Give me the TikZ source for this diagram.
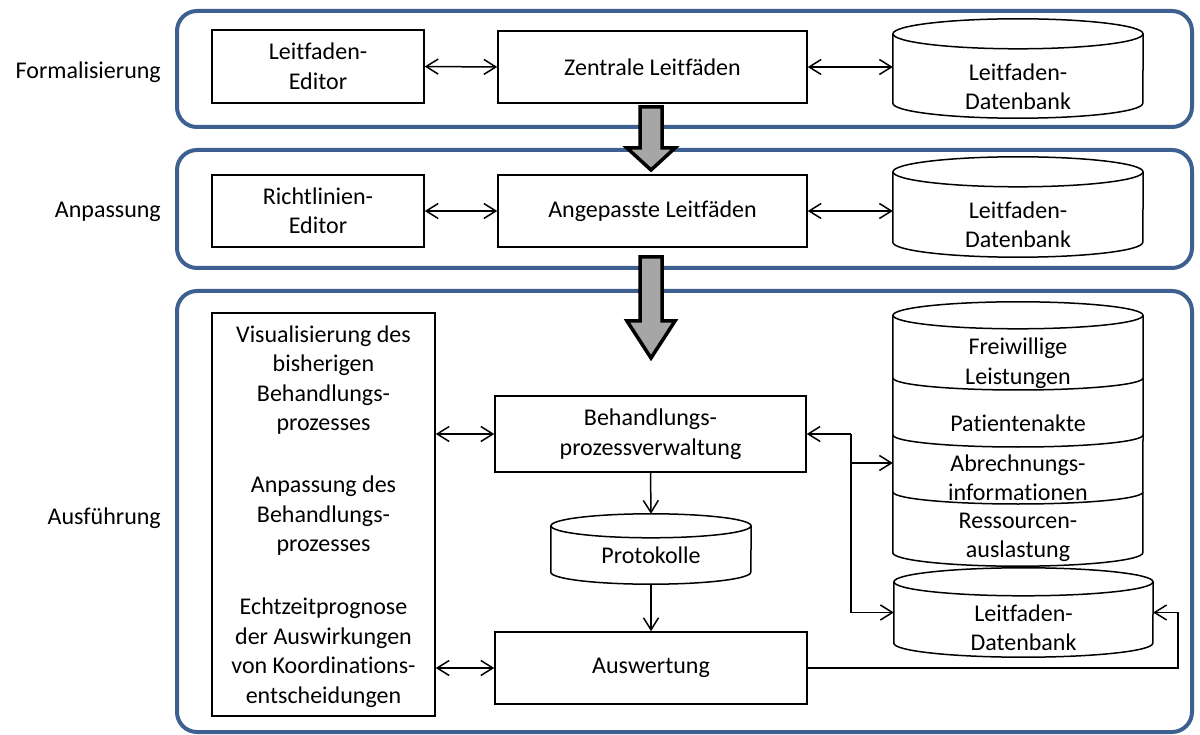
\documentclass[tikz,border=0pt]{standalone}
\usepackage{fontspec}
\setmainfont[Ligatures=NoCommon]{Carlito}
\usetikzlibrary{arrows.meta,calc}
\definecolor{frame}{RGB}{62,96,145}
\definecolor{garrow}{RGB}{166,166,166}
\newcommand\nolig{\kern0pt\relax}
\newcommand\drawcyl[3]{%
  \draw[ln,fill=white] ([yshift=-#2pt]#1.north west) -- ([yshift=#2pt]#1.south west)
    arc[start angle=180,end angle=360,x radius=#3pt,y radius=#2pt]
    -- ([yshift=-#2pt]#1.north east);
  \draw[ln,fill=white] ([yshift=-#2pt]#1.north) ellipse[x radius=#3pt,y radius=#2pt];
}
\begin{document}
\begin{tikzpicture}[x=1pt,y=-1pt,
  font=\fontsize{24}{29.5}\selectfont,
  ln/.style={line width=1.5pt},
  >={Straight Barb[length=12pt,width=15pt]},
  stage/.style={draw=frame,line width=4pt,rounded corners=20pt},
  box/.style={draw,ln,inner sep=0pt,align=center},
  cylbox/.style={inner sep=0pt},
  txt/.style={inner sep=0pt,align=center},
  lbl/.style={anchor=east,inner sep=0pt},
  bigarrow/.style={draw=black,line width=3.5pt,fill=garrow,line join=miter}]
\useasboundingbox (0,0) rectangle (1200,735);

% stages
\draw[stage] (177,11) rectangle (1192,127);
\draw[stage] (177,150) rectangle (1192,268);
\draw[stage] (177,291) rectangle (1192,732);

\node[lbl] (lf) at (161,72) {Formalisierung};
\node[lbl] (lp) at (161,212) {Anpassung};
\node[lbl] (la) at (161,518) {Ausführung};

% big arrows
\draw[bigarrow] (640,107) -- (662,107) -- (662,148) -- (675,148) -- (651,170) -- (627,148) -- (640,148) -- cycle;
\draw[bigarrow] (640,257) -- (662,257) -- (662,321) -- (675,321) -- (651,358) -- (627,321) -- (640,321) -- cycle;

% stage 1
\node[box,minimum width=212pt,minimum height=73pt] (le) at (318,66.5) {Leit\nolig faden-\\Editor};
\node[box,minimum width=309pt,minimum height=72pt] (zl) at (652.5,67) {Zentrale Leit\nolig fäden};
\node[cylbox,minimum width=250pt,minimum height=99pt] (db1) at (1018,68.5) {};
\drawcyl{db1}{15}{125}
\node[txt] (db1t) at (1018,87) {Leit\nolig faden-\\Datenbank};

% stage 2
\node[box,minimum width=212pt,minimum height=72pt] (re) at (318,211) {Richtlinien-\\Editor};
\node[box,minimum width=309pt,minimum height=72pt] (al) at (652.5,211) {Angepasste Leit\nolig fäden};
\node[cylbox,minimum width=250pt,minimum height=100pt] (db2) at (1018,207) {};
\drawcyl{db2}{15}{125}
\node[txt] (db2t) at (1018,225) {Leit\nolig faden-\\Datenbank};

% stage 3
\node[box,minimum width=223pt,minimum height=403pt] (vr) at (323.5,514.5) {};
\node[txt] (vr1) at (323.5,380) {Visualisierung des\\bisherigen\\Behandlungs-\\prozesses};
\node[txt] (vr2) at (323.5,516) {Anpassung des\\Behandlungs-\\prozesses};
\node[txt] (vr3) at (323.5,652.5) {Echtzeitprognose\\der Auswirkungen\\von Koordinations-\\entscheidungen};

\node[box,minimum width=311pt,minimum height=76pt] (bpv) at (650.5,434) {Behandlungs-\\prozessverwaltung};
\node[box,minimum width=312pt,minimum height=72pt] (aus) at (651,668) {Auswertung};

\node[cylbox,minimum width=200pt,minimum height=70pt] (prot) at (651,549) {};
\drawcyl{prot}{12}{100}
\node[txt] (prott) at (651,555) {Protokolle};

\node[cylbox,minimum width=250pt,minimum height=264pt] (stack) at (1018,434) {};
\drawcyl{stack}{13.5}{125}
\draw[ln] (893,378) arc[start angle=180,end angle=360,x radius=125pt,y radius=12pt];
\draw[ln] (893,435) arc[start angle=180,end angle=360,x radius=125pt,y radius=12pt];
\draw[ln] (893,492) arc[start angle=180,end angle=360,x radius=125pt,y radius=12pt];
\node[txt] (s1) at (1018,363) {Freiwillige\\Leistungen};
\node[txt] (s2) at (1018,423) {Patientenakte};
\node[txt] (s3) at (1018,478) {Abrechnungs-\\informationen};
\node[txt] (s4) at (1018,537.5) {Ressourcen-\\auslastung};

\node[cylbox,minimum width=259pt,minimum height=89pt] (db3) at (1023.5,612.5) {};
\drawcyl{db3}{14}{129.5}
\node[txt] (db3t) at (1023.5,628) {Leit\nolig faden-\\Datenbank};

% connectors
\draw[ln,<->] (le.east) -- (zl.west);
\draw[ln,<->] (zl.east) -- (db1.west |- zl.east);
\draw[ln,<->] (re.east) -- (al.west);
\draw[ln,<->] (al.east) -- (db2.west |- al.east);
\draw[ln,<->] (vr.east |- bpv.west) -- (bpv.west);
\draw[ln,<->] (vr.east |- aus.west) -- (aus.west);
\draw[ln,->] (bpv.south) -- (prot.north);
\draw[ln,->] (prot.south) -- (aus.north);

\coordinate (j1) at (851,434);
\coordinate (j2) at (851,463);
\coordinate (j3) at (851,612.5);
\draw[ln,->] (j1) -- (bpv.east);
\draw[ln] (j1) -- (j3);
\draw[ln,->] (j2) -- (stack.west |- j2);
\draw[ln,->] (j3) -- (db3.west);
\coordinate (c1) at (1178,640);
\draw[ln,->] (aus.east) -| (c1) |- (db3.east);
\end{tikzpicture}
\end{document}
